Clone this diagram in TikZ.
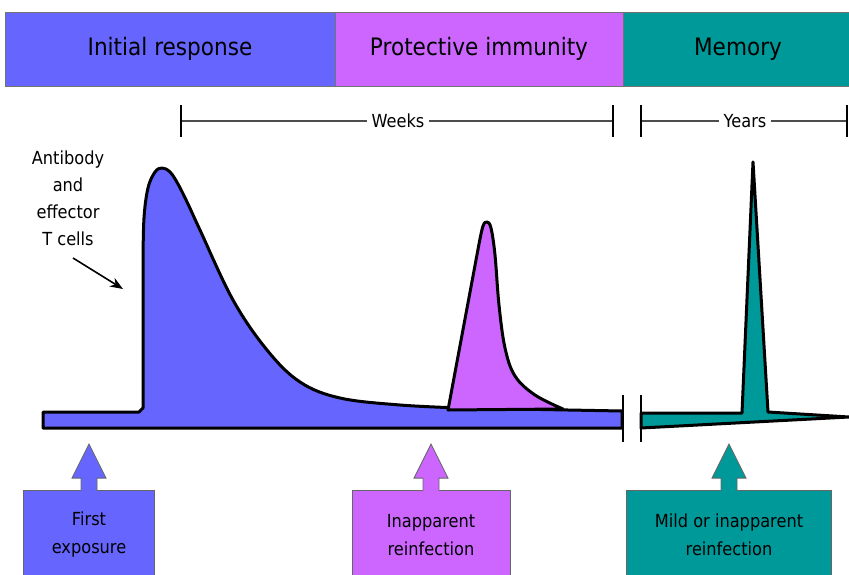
\documentclass[tikz,border=0pt]{standalone}
\usepackage{fontspec}
\setmainfont{DejaVu Sans}[FakeStretch=0.9]
\usetikzlibrary{arrows.meta}
\definecolor{cblue}{RGB}{102,102,255}
\definecolor{cpurple}{RGB}{204,102,255}
\definecolor{cteal}{RGB}{0,153,153}
\newcommand\evarrow[2]{\draw[evline, fill=#2] ([xshift=-8pt,yshift=-1.5pt]#1.north) -- ++(0,-13) -- ++(-9,0) -- ++(17,-34) -- ++(17,34) -- ++(-9,0) -- ++(0,13);}
\begin{document}
\begin{tikzpicture}[x=1pt,y=-1pt,
 phase/.style={draw=black!55, line width=0.8pt, minimum width=#1, minimum height=74pt, inner sep=0pt, font=\fontsize{24}{28}\selectfont},
 curve/.style={draw=black, line width=3pt, line join=round},
 scalebar/.style={line width=1.8pt, draw=black!70},
 tickmark/.style={line width=2pt, draw=black},
 scalelbl/.style={fill=white, inner xsep=5pt, inner ysep=2pt, font=\fontsize{18}{22}\selectfont},
 lbl/.style={font=\fontsize{18}{27}\selectfont, align=center},
 evbox/.style={draw=black!60, line width=0.8pt, minimum width=#1, minimum height=90pt, inner sep=0pt, font=\fontsize{18}{28}\selectfont, align=center},
 evline/.style={draw=black!60, line width=0.8pt},
 breakline/.style={line width=2.2pt, draw=black},
]
\clip (0,0) rectangle (849,575);
\fill[white] (0,0) rectangle (849,575);

% phase bar
\node[phase=330pt, fill=cblue] (p1) at (170,49) {Initial response};
\node[phase=288pt, fill=cpurple] (p2) at (479,49) {Protective immunity};
\node[phase=230pt, fill=cteal] (p3) at (738,49) {Memory};

% scales
\coordinate (w1) at (181,121); \coordinate (w2) at (613,121);
\coordinate (y1) at (641,121); \coordinate (y2) at (847,121);
\draw[scalebar] (w1) -- (w2);
\draw[scalebar] (y1) -- (y2);
\foreach \c in {w1,w2,y1,y2} \draw[tickmark] ([yshift=16pt]\c) -- ([yshift=-16pt]\c);
\node[scalelbl] (weeks) at (398,121) {Weeks};
\node[scalelbl] (years) at (745,121) {Years};

% response curves
\draw[curve, fill=cblue] (43,428) -- (43,412) -- (139,412) -- (143,408) -- (143,262)
  -- plot[smooth, tension=0.6] coordinates {(143,262) (144,218) (148,188) (155,172) (162,168) (170,172) (178,184) (188,204) (200,230) (233,300) (267,350) (300,382) (340,398) (400,405) (460,408)}
  -- (622,411) -- (622,428) -- cycle;
\draw[curve, fill=cpurple] (448,410) -- (479,244)
  -- plot[smooth, tension=0.6] coordinates {(479,244) (483,226) (487,222) (491,228) (495,255) (499,305) (505,348) (515,376) (535,395) (563,409)} -- cycle;
\draw[curve, fill=cteal] (641,428) -- (641,413) -- (742,413) -- (753,162) -- (768,412) -- (849,417) -- cycle;

% break
\coordinate (b1) at (623,395); \coordinate (b2) at (641,395);
\draw[breakline] (b1) -- ++(0,47);
\draw[breakline] (b2) -- ++(0,47);

% antibody label
\node[lbl] (ab) at (68,198) {Antibody\\and\\effector\\T cells};
\coordinate (abstart) at (73,258);
\coordinate (abtip) at (123,289);
\draw[-{Stealth[length=13pt,width=10pt]}, line width=1.6pt] (abstart) -- (abtip);

% events
\node[evbox=131pt, fill=cblue] (e1) at (89,535) {First\\exposure};
\node[evbox=158pt, fill=cpurple] (e2) at (431,535) {Inapparent\\reinfection};
\node[evbox=205pt, fill=cteal] (e3) at (729,535) {Mild or inapparent\\reinfection};
\evarrow{e1}{cblue}
\evarrow{e2}{cpurple}
\evarrow{e3}{cteal}
\end{tikzpicture}
\end{document}
